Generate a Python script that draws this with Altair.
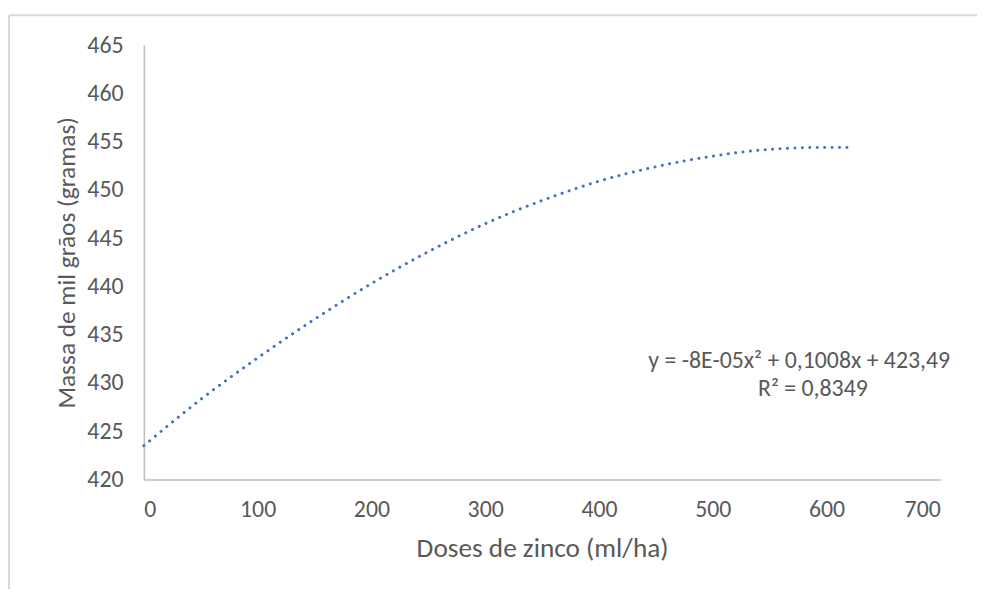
import altair as alt
import pandas as pd

doses = [0, 50, 100, 150, 200, 250, 300, 350, 400, 450, 500, 550, 600, 622]
massa = [423.5, 428.3, 432.6, 436.6, 440.3, 443.6, 446.5, 448.9, 450.9, 452.4, 453.5, 454.2, 454.4, 454.4]

eq_lines = ["y = -8E-05x² + 0,1008x + 423,49", "R² = 0,8349"]
eq_x = [576, 588]
eq_y = [432.3, 429.35]

x_ticks = [0, 100, 200, 300, 400, 500, 600, 700]
y_ticks = [420, 425, 430, 435, 440, 445, 450, 455, 460, 465]

FONT = "Carlito, Open Sans"
GREY = "#595959"

df = pd.DataFrame({"x": doses, "y": massa})
eq = pd.DataFrame({"t": eq_lines, "x": eq_x, "y": eq_y})

xs = alt.Scale(domain=[0, 700], nice=False)
ys = alt.Scale(domain=[420, 465], nice=False, zero=False)

line = alt.Chart(df).mark_line(
    color="#4472C4", strokeWidth=3, strokeDash=[0.1, 7.4], strokeCap="round",
    interpolate="monotone"
).encode(
    x=alt.X("x:Q", scale=xs, axis=alt.Axis(
        values=x_ticks, title="Doses de zinco (ml/ha)", grid=False, ticks=False,
        domainColor="#BFBFBF", domainWidth=1.6, labelColor=GREY, labelFont=FONT,
        labelFontSize=24, labelPadding=18, titleColor=GREY, titleFont=FONT,
        titleFontSize=27.5, titleFontWeight="normal", titlePadding=14)),
    y=alt.Y("y:Q", scale=ys, axis=alt.Axis(
        values=y_ticks, title="Massa de mil grãos (gramas)", grid=False, ticks=False,
        domainColor="#BFBFBF", domainWidth=1.6, labelColor=GREY, labelFont=FONT,
        labelFontSize=24, labelPadding=21, titleColor=GREY, titleFont=FONT,
        titleFontSize=25.5, titleFontWeight="normal", titlePadding=7)),
)

text = alt.Chart(eq).mark_text(font=FONT, fontSize=24, color=GREY, align="center",
                               baseline="middle").encode(
    x=alt.X("x:Q", scale=xs), y=alt.Y("y:Q", scale=ys), text="t:N"
)

frame_left = alt.Chart(eq.head(1)).mark_rule(color="#D9D9D9", strokeWidth=2).encode(
    x=alt.value(-136), y=alt.value(-30), y2=alt.value(560)
)
frame_top = alt.Chart(eq.head(1)).mark_rule(color="#D9D9D9", strokeWidth=2).encode(
    x=alt.value(-136), x2=alt.value(840), y=alt.value(-30)
)

chart = alt.layer(frame_left, frame_top, line, text).properties(
    width=803, height=438,
    autosize=alt.AutoSizeParams(type="none"),
    padding={"left": 137, "top": 35, "right": 37, "bottom": 108},
).configure_view(stroke=None)

chart.save("out.html", embed_options={"renderer": "svg", "actions": False})
